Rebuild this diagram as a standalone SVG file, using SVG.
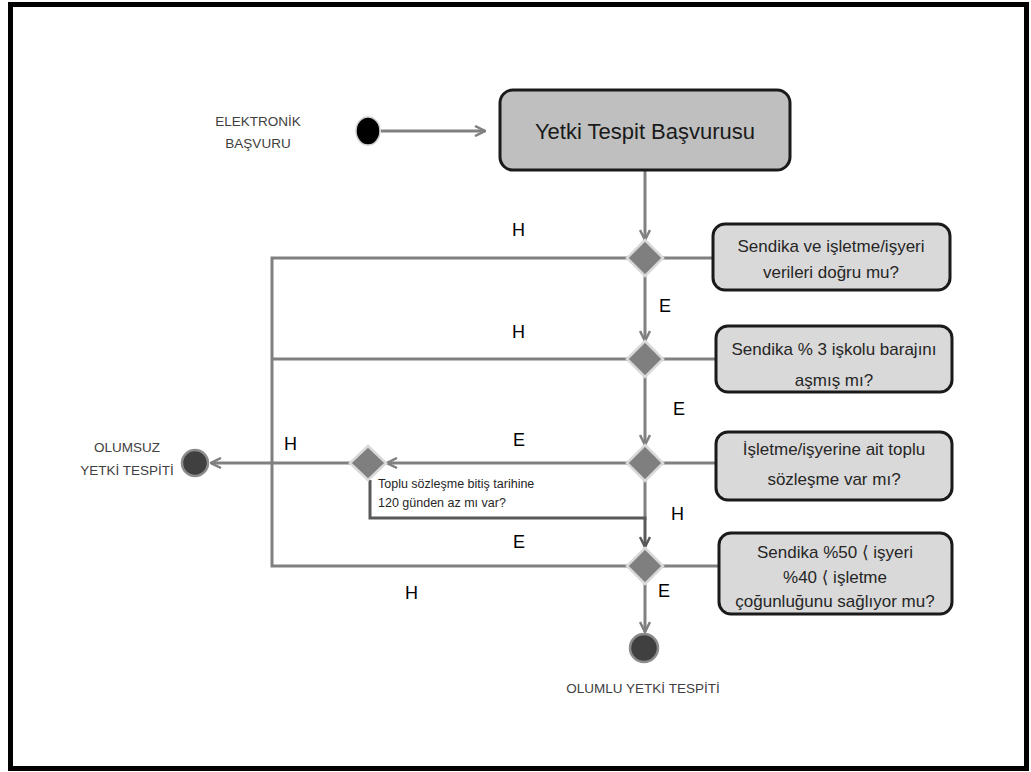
<svg xmlns="http://www.w3.org/2000/svg" width="1031" height="772" viewBox="0 0 1031 772">
  <style>
    text { font-family: "Liberation Sans", "DejaVu Sans", sans-serif; }
    .frame { fill: #ffffff; stroke: #000000; stroke-width: 5; }
    .edge { fill: none; stroke: #808080; stroke-width: 3; }
    .edge-dark { fill: none; stroke: #595959; stroke-width: 3; }
    .main { fill: #bfbfbf; stroke: #1a1a1a; stroke-width: 3; }
    .cond { fill: #d9d9d9; stroke: #1a1a1a; stroke-width: 3; }
    .dia { fill: #7f7f7f; stroke: #d9d9d9; stroke-width: 2.5; }
    .lbl { font-size: 18px; fill: #000000; }
    .ctext { font-size: 17px; fill: #262626; text-anchor: middle; }
    .state { font-size: 13.5px; fill: #404040; text-anchor: middle; }
    .note { font-size: 12.5px; fill: #262626; }
  </style>
  <defs>
    <marker id="arr" viewBox="0 0 12 12" refX="11" refY="6" markerWidth="12" markerHeight="12" markerUnits="userSpaceOnUse" orient="auto">
      <path d="M1,1 L11,6 L1,11" fill="none" stroke="#808080" stroke-width="2.5"/>
    </marker>
    <marker id="arrDark" viewBox="0 0 12 12" refX="11" refY="6" markerWidth="12" markerHeight="12" markerUnits="userSpaceOnUse" orient="auto">
      <path d="M1,1 L11,6 L1,11" fill="none" stroke="#595959" stroke-width="2.5"/>
    </marker>
  </defs>

  <rect class="frame" x="10.5" y="4.5" width="1016" height="764"/>

  <!-- connectors -->
  <g id="connectors">
    <line class="edge" x1="381" y1="131" x2="485" y2="131" marker-end="url(#arr)"/>
    <line class="edge" x1="645" y1="170" x2="645" y2="240" marker-end="url(#arr)"/>
    <line class="edge" x1="645" y1="276" x2="645" y2="341" marker-end="url(#arr)"/>
    <line class="edge" x1="645" y1="377" x2="645" y2="445" marker-end="url(#arr)"/>
    <line class="edge" x1="645" y1="481" x2="645" y2="520"/>
    <line class="edge" x1="645" y1="584" x2="645" y2="632" marker-end="url(#arr)"/>
    <!-- diamonds to question boxes -->
    <line class="edge" x1="663" y1="258" x2="713" y2="258"/>
    <line class="edge" x1="663" y1="359" x2="716" y2="359"/>
    <line class="edge" x1="663" y1="463" x2="716" y2="463"/>
    <line class="edge" x1="663" y1="566" x2="719" y2="566"/>
    <!-- H branches on the left -->
    <polyline class="edge" points="627,258 272,258 272,566 627,566"/>
    <line class="edge" x1="627" y1="359" x2="272" y2="359"/>
    <line class="edge" x1="627" y1="463" x2="387" y2="463" marker-end="url(#arr)"/>
    <line class="edge" x1="350" y1="463" x2="211" y2="463" marker-end="url(#arr)"/>
    <polyline class="edge-dark" points="370,480 370,518 645,518 645,547" marker-end="url(#arrDark)"/>
  </g>

  <!-- start -->
  <g id="start">
    <ellipse cx="368" cy="131" rx="12" ry="14" fill="#000000" stroke="#cfcfcf" stroke-width="1.5"/>
    <text class="state" x="258" y="126">ELEKTRONİK</text>
    <text class="state" x="258" y="148">BAŞVURU</text>
  </g>

  <g id="application">
    <rect class="main" x="500" y="90" width="290" height="80" rx="13"/>
    <text x="645" y="139" font-size="22" fill="#1a1a1a" text-anchor="middle">Yetki Tespit Başvurusu</text>
  </g>

  <g id="decision1"><polygon class="dia" points="645,240 663,258 645,276 627,258"/></g>
  <g id="decision2"><polygon class="dia" points="645,341 663,359 645,377 627,359"/></g>
  <g id="decision3"><polygon class="dia" points="645,445 663,463 645,481 627,463"/></g>
  <g id="decision4"><polygon class="dia" points="645,548 663,566 645,584 627,566"/></g>
  <g id="decision5"><polygon class="dia" points="368,446 386,463 368,480 350,463"/></g>

  <g id="question1">
    <rect class="cond" x="713" y="224" width="237" height="66" rx="12"/>
    <text class="ctext" x="831" y="252">Sendika ve işletme/işyeri</text>
    <text class="ctext" x="831" y="278">verileri doğru mu?</text>
  </g>
  <g id="question2">
    <rect class="cond" x="716" y="326" width="236" height="66" rx="12"/>
    <text class="ctext" x="834" y="355">Sendika % 3 işkolu barajını</text>
    <text class="ctext" x="834" y="386">aşmış mı?</text>
  </g>
  <g id="question3">
    <rect class="cond" x="716" y="432" width="236" height="68" rx="12"/>
    <text class="ctext" x="834" y="455">İşletme/işyerine ait toplu</text>
    <text class="ctext" x="834" y="485">sözleşme var mı?</text>
  </g>
  <g id="question4">
    <rect class="cond" x="719" y="533" width="233" height="81" rx="12"/>
    <text class="ctext" x="835" y="558">Sendika %50 ⟨  işyeri</text>
    <text class="ctext" x="835" y="583">%40 ⟨ işletme</text>
    <text class="ctext" x="835" y="607">çoğunluğunu sağlıyor mu?</text>
  </g>

  <g id="note">
    <text class="note" x="378" y="488">Toplu sözleşme bitiş tarihine</text>
    <text class="note" x="378" y="507">120 günden az mı var?</text>
  </g>

  <g id="negative">
    <circle cx="195" cy="463" r="13" fill="#404040" stroke="#8c8c8c" stroke-width="2.5"/>
    <text class="state" x="127" y="452">OLUMSUZ</text>
    <text class="state" x="127" y="475">YETKİ TESPİTİ</text>
  </g>

  <g id="positive">
    <circle cx="644" cy="648" r="14" fill="#404040" stroke="#8c8c8c" stroke-width="2.5"/>
    <text class="state" x="643" y="693">OLUMLU YETKİ TESPİTİ</text>
  </g>

  <g id="branch-labels">
    <text class="lbl" x="512" y="236">H</text>
    <text class="lbl" x="659" y="312">E</text>
    <text class="lbl" x="512" y="338">H</text>
    <text class="lbl" x="673" y="415">E</text>
    <text class="lbl" x="284" y="450">H</text>
    <text class="lbl" x="513" y="446">E</text>
    <text class="lbl" x="671" y="520">H</text>
    <text class="lbl" x="513" y="548">E</text>
    <text class="lbl" x="405" y="599">H</text>
    <text class="lbl" x="658" y="597">E</text>
  </g>
</svg>
